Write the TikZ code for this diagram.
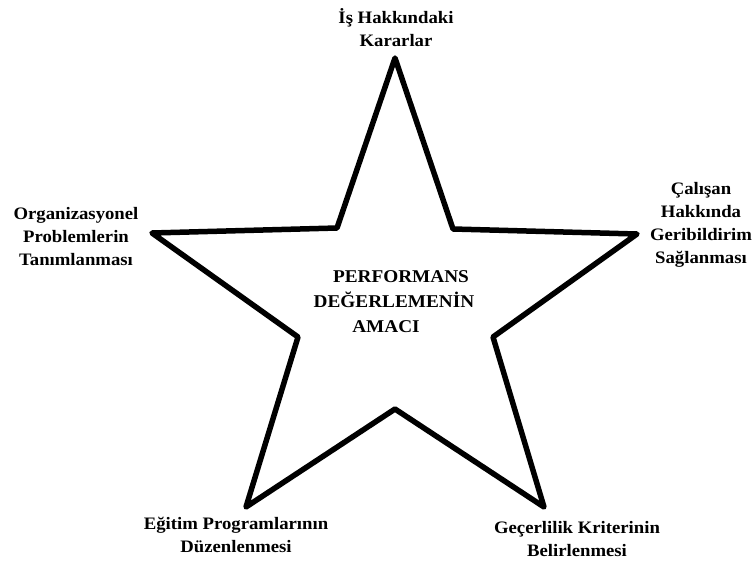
\documentclass[tikz,border=0pt]{standalone}
\usepackage{fontspec}
\setmainfont{Liberation Serif}[FakeStretch=1.07]
\begin{document}
\begin{tikzpicture}[x=1pt,y=-1pt,
  starline/.style={line width=5.5pt,line join=round,draw=black},
  lbl/.style={font=\fontsize{17.5}{23}\selectfont\bfseries,align=center,inner sep=0pt},
  ctr/.style={font=\fontsize{18}{25}\selectfont\bfseries,align=center,inner sep=0pt}]
\useasboundingbox (0,0) rectangle (753,563);
% star points
\coordinate (pt) at (395,58);
\coordinate (it1) at (453,229);
\coordinate (pr) at (637,234);
\coordinate (ir) at (493,337);
\coordinate (pbr) at (544,507);
\coordinate (ib) at (395,409);
\coordinate (pbl) at (246,507);
\coordinate (il) at (298,337);
\coordinate (pl) at (152,233);
\coordinate (it0) at (337,228);
\draw[starline] (pt) -- (it1) -- (pr) -- (ir) -- (pbr) -- (ib) -- (pbl) -- (il) -- (pl) -- (it0) -- cycle;
% labels
\node[lbl] (ltop) at (396,28) {İş Hakkındaki\\Kararlar};
\node[lbl] (lleft) at (76,237) {Organizasyonel\\Problemlerin\\Tanımlanması};
\node[lbl] (lright) at (701,225) {Çalışan\\Hakkında\\Geribildirim\\Sağlanması};
\node[lbl] (lbl) at (236,535) {Eğitim Programlarının\\Düzenlenmesi};
\node[lbl] (lbr) at (577,539) {Geçerlilik Kriterinin\\Belirlenmesi};
\node[ctr] (center) at (394,302) {\hspace*{14pt}PERFORMANS\\DEĞERLEMENİN\\AMACI\hspace*{16pt}};
\end{tikzpicture}
\end{document}
